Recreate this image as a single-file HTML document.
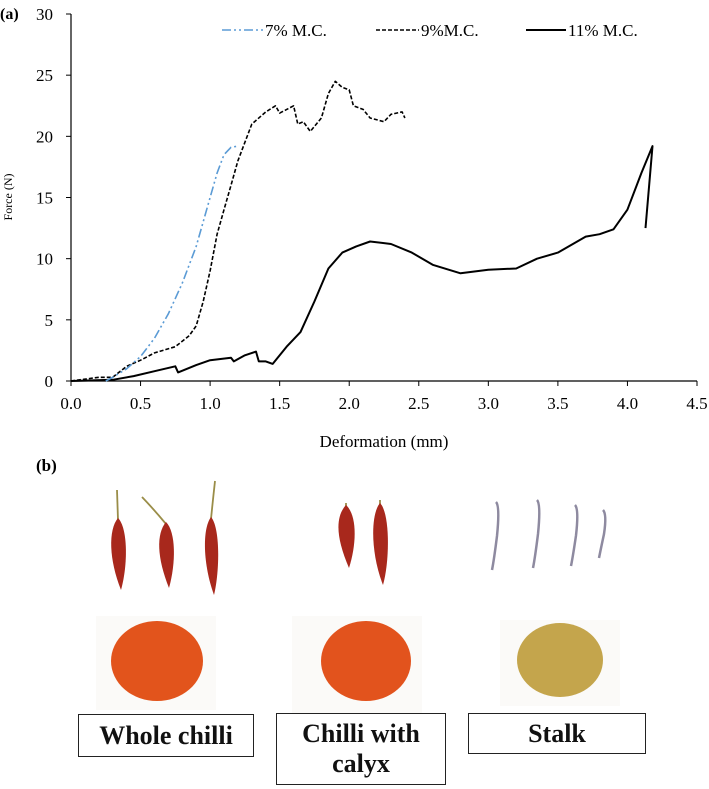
<!DOCTYPE html>
<html><head><meta charset="utf-8"><style>
html,body{margin:0;padding:0;background:#fff;}
svg{display:block;font-family:"Liberation Serif",serif;}
.box{position:absolute;border:1.5px solid #222;background:#fff;font-family:"Liberation Serif",serif;font-weight:bold;font-size:26px;text-align:center;color:#111;box-sizing:border-box;white-space:nowrap;}
</style></head><body>
<div style="position:relative;width:709px;height:789px;overflow:hidden">
<svg id="chart" width="709" height="789"></svg>
<div class="box" style="left:78px;top:714px;width:176px;height:43px;line-height:41px">Whole chilli</div>
<div class="box" style="left:276px;top:713px;width:170px;height:72px;line-height:30px;padding-top:5px">Chilli with<br>calyx</div>
<div class="box" style="left:468px;top:713px;width:178px;height:41px;line-height:39px">Stalk</div>
</div>
<script>
const xTicks=[0,0.5,1.0,1.5,2.0,2.5,3.0,3.5,4.0,4.5];
const yTicks=[0,5,10,15,20,25,30];
const s7x=[0.25,0.3,0.4,0.5,0.6,0.7,0.8,0.9,1.0,1.05,1.1,1.15,1.2];
const s7y=[0,0.3,1.0,2.0,3.5,5.5,8,11,15,17,18.5,19.1,19.2];
const s9x=[0,0.2,0.3,0.4,0.5,0.6,0.75,0.85,0.9,0.95,1.0,1.05,1.1,1.15,1.2,1.3,1.4,1.47,1.5,1.6,1.63,1.67,1.72,1.8,1.85,1.9,1.95,2.0,2.03,2.1,2.15,2.25,2.3,2.38,2.4];
const s9y=[0,0.3,0.3,1.2,1.7,2.3,2.8,3.7,4.5,6.5,9,12,14,16,18,21,22,22.5,21.9,22.5,21,21.2,20.4,21.5,23.5,24.5,24,23.8,22.5,22.2,21.5,21.2,21.8,22,21.5];
const s11x=[0,0.3,0.45,0.6,0.75,0.77,0.9,1.0,1.15,1.17,1.25,1.33,1.35,1.4,1.45,1.55,1.65,1.75,1.85,1.95,2.05,2.15,2.3,2.45,2.6,2.8,3.0,3.2,3.35,3.5,3.7,3.8,3.9,4.0,4.1,4.18,4.13];
const s11y=[0,0.1,0.4,0.8,1.2,0.7,1.3,1.7,1.9,1.6,2.1,2.4,1.6,1.6,1.4,2.8,4,6.5,9.2,10.5,11,11.4,11.2,10.5,9.5,8.8,9.1,9.2,10,10.5,11.8,12,12.4,14,17,19.2,12.5];
const NS='http://www.w3.org/2000/svg';
const svg=document.getElementById('chart');
const X0=71,X1=697,Y0=381,Y1=14;
const sx=v=>X0+(v/4.5)*(X1-X0);
const sy=v=>Y0-(v/30)*(Y0-Y1);
function mk(t,a,p){const e=document.createElementNS(NS,t);for(const k in a)e.setAttribute(k,a[k]);(p||svg).appendChild(e);return e;}
let ax=mk('line',{x1:X0,y1:Y0,x2:X1,y2:Y0,stroke:'#000','stroke-width':1.2});


let ay=mk('line',{x1:X0,y1:Y0,x2:X0,y2:Y1,stroke:'#000','stroke-width':1.2});


xTicks.forEach(v=>{
 mk('line',{x1:sx(v),y1:Y0,x2:sx(v),y2:Y0+5,stroke:'#000'});
 const t=mk('text',{x:sx(v),y:409,'text-anchor':'middle','font-size':17});
 t.textContent=v.toFixed(1);
 
 
});
yTicks.forEach(v=>{
 mk('line',{x1:X0-5,y1:sy(v),x2:X0,y2:sy(v),stroke:'#000'});
 const t=mk('text',{x:X0-18,y:sy(v)+6,'text-anchor':'end','font-size':17});
 t.textContent=v;
 
 
});
let xt=mk('text',{x:sx(2.25),y:447,'text-anchor':'middle','font-size':17});
xt.textContent='Deformation (mm)';


let yt=mk('text',{x:0,y:0,'text-anchor':'middle','font-size':12,transform:'translate(12,197) rotate(-90)'});
yt.textContent='Force (N)';


let pa=mk('text',{x:0,y:19,'font-size':16,'font-weight':'bold'});
pa.textContent='(a)';


let pb=mk('text',{x:36,y:471,'font-size':17,'font-weight':'bold'});
pb.textContent='(b)';


function series(xs,ys,st,name){
 const d=xs.map((v,i)=>(i?'L':'M')+sx(v).toFixed(1)+' '+sy(ys[i]).toFixed(1)).join(' ');
 const p=mk('path',Object.assign({d:d,fill:'none','stroke-linejoin':'round'},st));
 
 
}
const st7={stroke:'#5b9bd5','stroke-width':1.6,'stroke-dasharray':'9 3 2 3 2 3'};
const st9={stroke:'#000','stroke-width':1.6,'stroke-dasharray':'4 2'};
const st11={stroke:'#000','stroke-width':2};
series(s11x,s11y,st11,'series-11pct');
series(s9x,s9y,st9,'series-9pct');
series(s7x,s7y,st7,'series-7pct');
[[222,263,'7% M.C.',st7,'legend-7pct'],[376,419,'9%M.C.',st9,'legend-9pct'],[526,566,'11% M.C.',st11,'legend-11pct']].forEach(l=>{
 const g=mk('g',{});
 
 
 mk('line',Object.assign({x1:l[0],y1:30,x2:l[1],y2:30},l[3]),g);
 const t=mk('text',{x:l[1]+2,y:36,'font-size':17},g);t.textContent=l[2];
});
[[96,616,120,94],[292,616,130,98],[500,620,120,86]].forEach(b=>mk('rect',{x:b[0],y:b[1],width:b[2],height:b[3],fill:'#fbfaf8'}));
function chilli(cx,top,bot,stemX,stemTop,w,name){
 const g=mk('g',{});
 
 
 mk('path',{d:`M${cx} ${top+2} Q${(cx+stemX)/2} ${(top+stemTop)/2} ${stemX} ${stemTop}`,stroke:'#9a8d48','stroke-width':1.8,fill:'none'},g);
 mk('path',{d:`M${cx} ${top} C${cx+w} ${top+10} ${cx+w} ${bot-25} ${cx+3} ${bot} C${cx-w+1} ${bot-30} ${cx-w} ${top+12} ${cx} ${top}Z`,fill:'#a8281c'},g);
}
chilli(118,518,590,117,490,10,'whole-chilli-1');
chilli(166,522,588,142,497,10,'whole-chilli-2');
chilli(211,517,595,215,481,9,'whole-chilli-3');
chilli(346,505,568,346,503,11,'calyx-chilli-1');
chilli(380,503,585,380,500,10,'calyx-chilli-2');
[[496,502,570],[537,500,568],[575,505,566],[603,510,558]].forEach((s,i)=>{
 const p=mk('path',{d:`M${s[0]} ${s[1]} Q${s[0]+4} ${s[1]+4} ${s[0]+1} ${(s[1]+s[2])/2} Q${s[0]-2} ${s[2]-10} ${s[0]-4} ${s[2]}`,stroke:'#8e8aa0','stroke-width':2.5,fill:'none'});
 
 
});
[[157,661,46,40,'#e2541c','whole-chilli-powder'],[366,661,45,40,'#e2531d','calyx-powder'],[560,660,43,37,'#c4a54c','stalk-powder']].forEach(p=>{
 const e=mk('ellipse',{cx:p[0],cy:p[1],rx:p[2],ry:p[3],fill:p[4]});
 
 
});
</script>
</body></html>
